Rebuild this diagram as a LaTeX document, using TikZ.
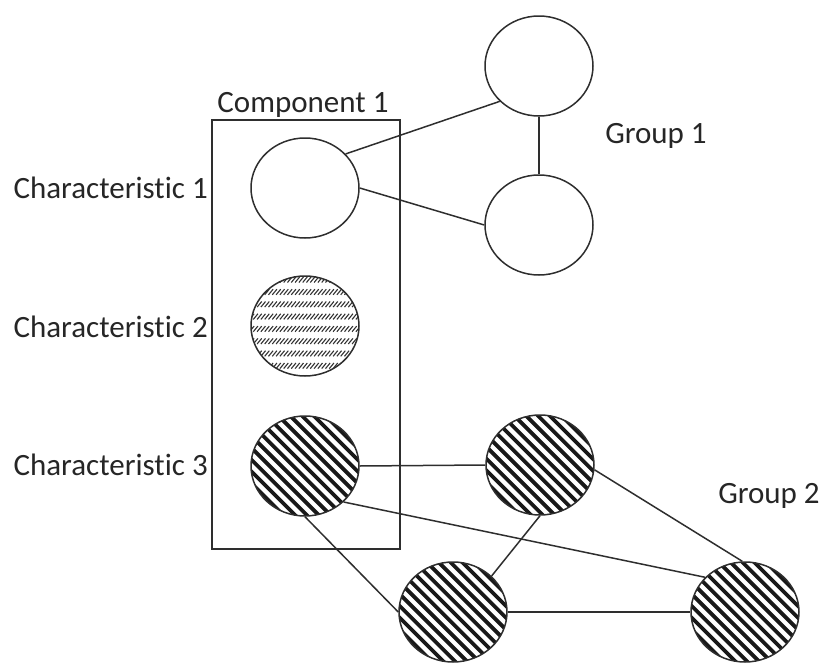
\documentclass[tikz,border=0pt]{standalone}
\usepackage{fontspec}
\setmainfont{Carlito}[Ligatures=NoCommon]
\usetikzlibrary{shapes.geometric}

\tikzset{
  ink/.style={draw=black!82, line width=1.5pt},
  charnode/.style={ellipse, ink, minimum width=108pt, minimum height=100pt, inner sep=0pt},
  link/.style={ink},
  caption/.style={text=black!85, font=\fontsize{31}{37}\selectfont, inner sep=0pt},
  % wide diagonal stripes
  bold hatch/.style={path picture={
    \foreach \k in {-11,...,11}
      \draw[black!90, line width=3.8pt]
        ([xshift=\k*11.8pt]path picture bounding box.center) +(-75pt,75pt) -- +(75pt,-75pt);
  }},
  % rows of short slashes
  fine hatch/.style={path picture={
    \foreach \r in {-4,...,4}
      \foreach \c in {-16,...,16}
        \draw[black!80, line width=1.1pt]
          ([xshift=\c*3.8pt, yshift=\r*12.3pt-2.9pt]path picture bounding box.center)
          +(-2.3pt,-2.8pt) -- +(2.3pt,2.8pt);
  }},
}

\begin{document}
\begin{tikzpicture}[x=1pt, y=-1pt]
  \useasboundingbox (0,0) rectangle (823,664);

  % component frame and its title
  \node (comp) [ink, rectangle, minimum width=188pt, minimum height=429pt,
                inner sep=0pt, anchor=north west] at (211,119) {};
  \node (comptitle) [caption, anchor=base] at (303,112) {Component 1};

  % characteristics inside the component
  \node (c1) [charnode] at (305,188) {};
  \node (c2) [charnode, fine hatch] at (305,326) {};
  \node (c3) [charnode, bold hatch] at (305,466) {};

  \node (l1) [caption, anchor=base east] at (208,198) {Characteristic 1};
  \node (l2) [caption, anchor=base east] at (208,337) {Characteristic 2};
  \node (l3) [caption, anchor=base east] at (208,475) {Characteristic 3};

  % group 1
  \node (g1a) [charnode] at (539,66) {};
  \node (g1b) [charnode] at (539,225) {};
  \node (g1label) [caption, anchor=base] at (656,143) {Group 1};

  % group 2
  \node (g2a) [charnode, bold hatch] at (540,465) {};
  \node (g2b) [charnode, bold hatch] at (453,612) {};
  \node (g2c) [charnode, bold hatch] at (745,612) {};
  \node (g2label) [caption, anchor=base] at (769,503) {Group 2};

  % connections of group 1
  \draw[link] (c1.40) -- (g1a.222);
  \draw[link] (c1.east) -- (g1b.west);
  \draw[link] (g1a.south) -- (g1b.north);

  % connections of group 2
  \draw[link] (c3.east) -- (g2a.west);
  \draw[link] (c3.-43) -- (g2c.139);
  \draw[link] (c3.south) -- (g2b.west);
  \draw[link] (g2a.south) -- (g2b.43);
  \draw[link] (g2a.-5) -- (g2c.93);
  \draw[link] (g2b.east) -- (g2c.west);
\end{tikzpicture}
\end{document}
